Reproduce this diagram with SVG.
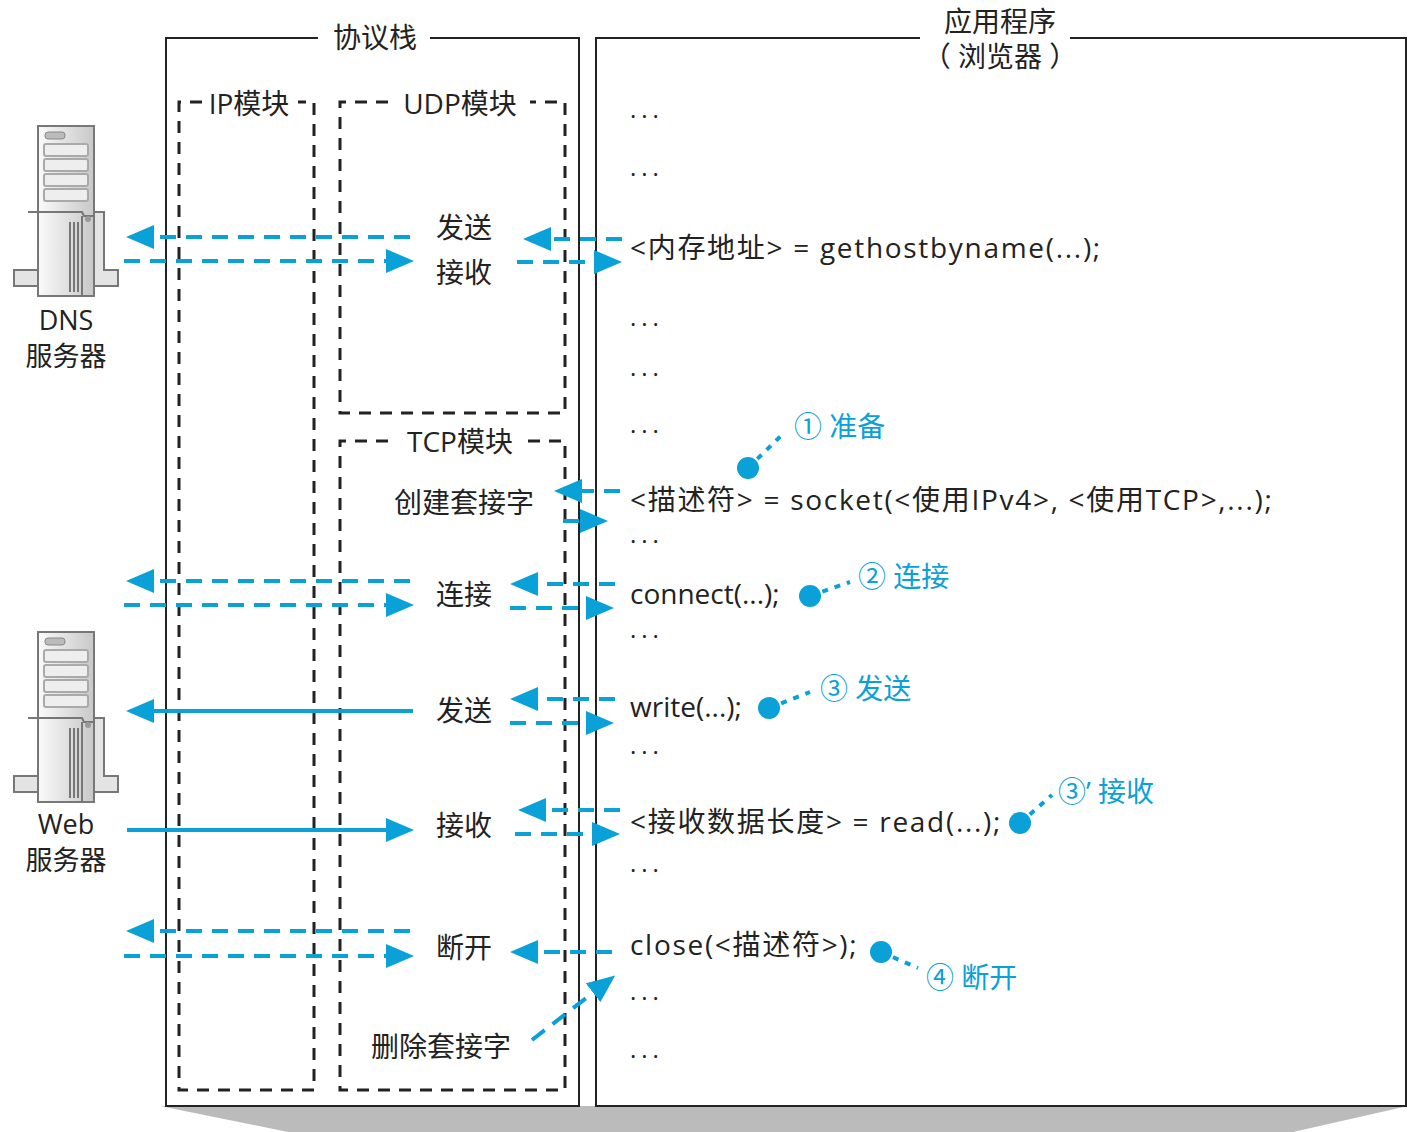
<svg xmlns="http://www.w3.org/2000/svg" width="1422" height="1132" viewBox="0 0 1422 1132">
<style>
text{font-family:"Open Sans","Noto Sans CJK SC",sans-serif;font-size:28px;fill:#222}
.m{text-anchor:middle}
.s{font-size:27px}
.c{letter-spacing:1.7px}
.d{font-size:24px;letter-spacing:5px}
.b{fill:#0aa0d8}
.box{fill:none;stroke:#222;stroke-width:2}
.dbox{fill:none;stroke:#222;stroke-width:3;stroke-dasharray:12 9}
.da{stroke:#0aa0d8;stroke-width:4;stroke-dasharray:16 10;fill:none}
.so{stroke:#0aa0d8;stroke-width:4;fill:none}
.dl{stroke:#0aa0d8;stroke-width:4;stroke-dasharray:6 7;fill:none}
</style>
<defs>
<marker id="ah" markerWidth="7" markerHeight="6" refX="6" refY="3" orient="auto" markerUnits="strokeWidth"><path d="M0,0L7,3L0,6z" fill="#0aa0d8"/></marker>
<linearGradient id="sg" x1="0" y1="0" x2="1" y2="0"><stop offset="0" stop-color="#fafafa"/><stop offset="1" stop-color="#c8c8c8"/></linearGradient>
<g id="srv">
<path d="M28,212H38V270H14V286H118V270H104V212H94" fill="#e4e4e4" stroke="#777" stroke-width="2"/>
<rect x="38" y="126" width="56" height="170" fill="url(#sg)" stroke="#777" stroke-width="2"/>
<rect x="45" y="132" width="20" height="7" rx="3" fill="#bbb" stroke="#888"/>
<rect x="44" y="144" width="44" height="12" rx="2" fill="#eee" stroke="#aaa" stroke-width="2"/>
<rect x="44" y="159" width="44" height="12" rx="2" fill="#eee" stroke="#aaa" stroke-width="2"/>
<rect x="44" y="174" width="44" height="12" rx="2" fill="#eee" stroke="#aaa" stroke-width="2"/>
<rect x="44" y="189" width="44" height="12" rx="2" fill="#eee" stroke="#aaa" stroke-width="2"/>
<path d="M38,212H82L84,216H94M82,216V296M70,222V292M74,222V292M78,222V292" stroke="#777" stroke-width="2" fill="none"/>
<circle cx="88" cy="219" r="3" fill="#999"/>
</g>
</defs>
<polygon points="160,1106 1408,1106 1293,1132 288,1132" fill="#bbb"/>
<g id="stack"><path class="box" d="M318,38H166V1106H579V38H430"/><text class="m" x="375" y="48">协议栈</text></g>
<g id="app"><path class="box" d="M920,38H596V1106H1406V38H1070"/><text class="m" x="1000" y="32">应用程序</text><text class="m" x="1000" y="67">（ 浏览器 ）</text></g>
<g id="ip"><path class="dbox" d="M202,102H179V1090H314V102H298"/><text class="m" x="249" y="114">IP模块</text></g>
<g id="udp"><path class="dbox" d="M388,102H340V413H565V102H530"/><text class="m" x="460" y="114">UDP模块</text></g>
<g id="tcp"><path class="dbox" d="M388,441H340V1090H565V441H528"/><text class="m" x="460" y="452">TCP模块</text></g>
<g id="dns"><use href="#srv"/><text class="m s" x="66" y="330">DNS</text><text class="m s" x="66" y="366">服务器</text></g>
<g id="web"><use href="#srv" transform="translate(0,506)"/><text class="m s" x="66" y="834">Web</text><text class="m s" x="66" y="870">服务器</text></g>
<g id="labels">
<text class="m" x="464" y="238">发送</text><text class="m" x="464" y="283">接收</text>
<text class="m" x="464" y="513">创建套接字</text><text class="m" x="464" y="605">连接</text>
<text class="m" x="464" y="721">发送</text><text class="m" x="464" y="836">接收</text>
<text class="m" x="464" y="958">断开</text><text class="m" x="441" y="1057">删除套接字</text>
</g>
<g id="code">
<text class="d" x="630" y="118">...</text><text class="d" x="630" y="176">...</text>
<text class="c" x="630" y="258">&lt;内存地址&gt; = gethostbyname(...);</text>
<text class="d" x="630" y="326">...</text><text class="d" x="630" y="376">...</text><text class="d" x="630" y="433">...</text>
<text class="c" x="630" y="510">&lt;描述符&gt; = socket(&lt;使用IPv4&gt;, &lt;使用TCP&gt;,...);</text>
<text class="d" x="630" y="543">...</text>
<text x="630" y="604">connect(...);</text><text class="d" x="630" y="638">...</text>
<text x="630" y="717">write(...);</text><text class="d" x="630" y="754">...</text>
<text class="c" x="630" y="832">&lt;接收数据长度&gt; = read(...);</text><text class="d" x="630" y="872">...</text>
<text class="c" x="630" y="955">close(&lt;描述符&gt;);</text><text class="d" x="630" y="1000">...</text><text class="d" x="630" y="1058">...</text>
</g>
<g id="connectors" marker-end="url(#ah)">
<path class="da" d="M410,237H130"/><path class="da" d="M124,261H410"/>
<path class="da" d="M410,581H130"/><path class="da" d="M124,605H410"/>
<path class="so" d="M413,711H130"/><path class="so" d="M127,830H410"/>
<path class="da" d="M410,931H130"/><path class="da" d="M124,956H410"/>
<path class="da" d="M622,239H527"/><path class="da" d="M517,262H618"/>
<path class="da" d="M620,491H558"/><path class="da" d="M563,521H604"/>
<path class="da" d="M615,584H514"/><path class="da" d="M510,608H610"/>
<path class="da" d="M615,699H514"/><path class="da" d="M510,723H610"/>
<path class="da" d="M620,810H522"/><path class="da" d="M515,834H616"/>
<path class="da" d="M612,952H514"/>
<path class="da" d="M532,1040L612,978"/>
</g>
<g id="notes">
<path class="dl" d="M748,468L785,432M810,596L850,582M769,708L810,692M1020,823L1052,795M881,952L918,968"/>
<circle class="b" cx="748" cy="468" r="11"/><circle class="b" cx="810" cy="596" r="11"/><circle class="b" cx="769" cy="708" r="11"/><circle class="b" cx="1020" cy="823" r="11"/><circle class="b" cx="881" cy="952" r="11"/>
<text class="b" x="794" y="437">① 准备</text><text class="b" x="858" y="587">② 连接</text><text class="b" x="820" y="699">③ 发送</text><text class="b" x="1058" y="802">③’ 接收</text><text class="b" x="926" y="988">④ 断开</text>
</g>
</svg>
